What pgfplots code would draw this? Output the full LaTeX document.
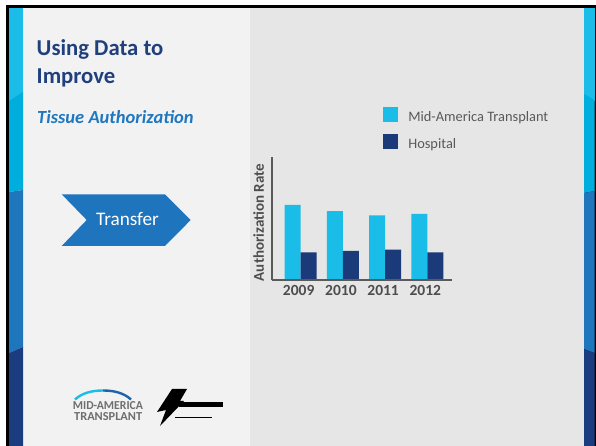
\documentclass[border=0pt]{standalone}
\usepackage{fontspec}
\setmainfont{Carlito}
\usepackage{graphicx}
\usepackage{pgfplots}
\pgfplotsset{compat=1.18}
\definecolor{lightcyan}{HTML}{1BBCE7}
\definecolor{midcyan}{HTML}{00AEDD}
\definecolor{midblue}{HTML}{1E77BD}
\definecolor{navy}{HTML}{1B3C7E}
\definecolor{titlenavy}{HTML}{1F3F7D}
\definecolor{subblue}{HTML}{1F77C0}
\definecolor{arrowblue}{HTML}{1F74BE}
\definecolor{barcyan}{HTML}{1ABDE8}
\definecolor{barnavy}{HTML}{1B3A7A}
\definecolor{axisgray}{HTML}{5A5A5A}
\definecolor{textgray}{HTML}{595959}
\definecolor{tickgray}{HTML}{4D4D4D}
\definecolor{logogray}{HTML}{6E6E6E}
\definecolor{panelA}{HTML}{F2F2F2}
\definecolor{panelB}{HTML}{E6E6E6}
\begin{document}
\begin{tikzpicture}
\useasboundingbox (0,0) rectangle (596pt,446pt);
\begin{scope}[x=1pt,y=-1pt,shift={(0pt,446pt)}]
\fill[white] (0,0) rectangle (596,446);
\fill[black] (6,5) rectangle (596,446);
\fill[panelA] (9,8) rectangle (250,446);
\fill[panelB] (250,8) rectangle (584,446);
% left strip
\fill[lightcyan] (9,8) rectangle (23,101);
\fill[midcyan] (9,101) -- (23,92) -- (23,190) -- (9,192) -- cycle;
\fill[midblue] (9,192) -- (23,190) -- (23,347) -- (9,353) -- cycle;
\fill[navy] (9,353) -- (23,347) -- (23,446) -- (9,446) -- cycle;
% right strip
\fill[lightcyan] (584,8) rectangle (594.5,101);
\fill[midcyan] (584,94) -- (594.5,100) -- (594.5,191) -- (584,193) -- cycle;
\fill[midblue] (584,193) -- (594.5,191) -- (594.5,353) -- (584,349) -- cycle;
\fill[navy] (584,349) -- (594.5,353) -- (594.5,446) -- (584,446) -- cycle;
% titles
\node[anchor=base west, inner sep=0, text=titlenavy, font=\fontsize{22.7}{27}\selectfont\bfseries] at (36.5,55.7) {Using Data to};
\node[anchor=base west, inner sep=0, text=titlenavy, font=\fontsize{22.7}{27}\selectfont\bfseries] at (36.5,83.3) {Improve};
\node[anchor=base west, inner sep=0, text=subblue, font=\fontsize{18.5}{22}\selectfont\bfseries\itshape] at (37,124) {Tissue Authorization};
% chevron
\fill[arrowblue] (61.7,194.3) -- (165,194.3) -- (190.7,220) -- (165,246) -- (61.7,246) -- (86.7,220) -- cycle;
\node[anchor=base, inner sep=0, text=white, font=\fontsize{19.2}{23}\selectfont] at (127.5,226) {Transfer};
% logo 1
\draw[line width=2.4pt, lightcyan] (75,399.5) .. controls (82,393) and (92,390.5) .. (103,390.5);
\draw[line width=2.4pt, midblue!70!navy] (103,390.5) .. controls (114,390.5) and (124,393) .. (131,399.5);
\node[anchor=north west, inner sep=0, text=logogray] at (72.7,401) {\resizebox{70pt}{8pt}{\bfseries MID-AMERICA}};
\node[anchor=north west, inner sep=0, text=logogray] at (74,412.5) {\resizebox{68pt}{8pt}{\bfseries TRANSPLANT}};
% logo 2
\fill[black] (172,389) -- (187,389) -- (180,401) -- (184,401) -- (160,426) -- (166,410) -- (157,412) -- cycle;
\fill[black] (179,402.5) rectangle (223,407.5);
\fill[black] (175,417) rectangle (212,418.5);
\end{scope}
\begin{axis}[
  at={(272pt,166pt)}, anchor=south west,
  scale only axis, width=180pt, height=123pt,
  xmin=-0.68, xmax=3.585, ymin=0, ymax=100,
  axis lines=left, axis line style={-, draw=axisgray, line width=2pt},
  axis on top=true,
  ytick=\empty, xtick={0,1,2,3}, xticklabels={2009,2010,2011,2012},
  major tick length=0pt,
  /pgf/number format/assume math mode=true,
  xticklabel style={font=\fontsize{15.5}{18}\selectfont\bfseries, text=tickgray, inner sep=0pt, yshift=-5pt, xshift=-2pt},
  ylabel={Authorization Rate},
  every axis y label/.style={at={(axis description cs:-0.044,0.467)}, anchor=south, rotate=90, inner sep=0pt, font=\fontsize{15}{18}\selectfont\bfseries, text=tickgray},
  ybar=0pt, bar width=16pt,
  legend style={draw=none, fill=none, at={(axis description cs:0.6183,1.409)}, anchor=north west, inner sep=0pt, outer sep=0pt, row sep=9.6pt, font=\fontsize{14.4}{17}\selectfont, text=textgray, cells={anchor=base west, inner sep=0pt, text=textgray}, /tikz/every odd column/.append style={column sep=8pt}},
  legend image code/.code={\fill[#1] (0pt,-0.5pt) rectangle (15pt,14.5pt);},
]
\addplot[fill=barcyan, draw=none] coordinates {(0,61.0) (1,55.9) (2,52.6) (3,53.7)};
\addlegendentry{Mid-America Transplant}
\addplot[fill=barnavy, draw=none] coordinates {(0,22.5) (1,23.6) (2,24.6) (3,22.5)};
\addlegendentry{Hospital}
\end{axis}
\end{tikzpicture}
\end{document}
